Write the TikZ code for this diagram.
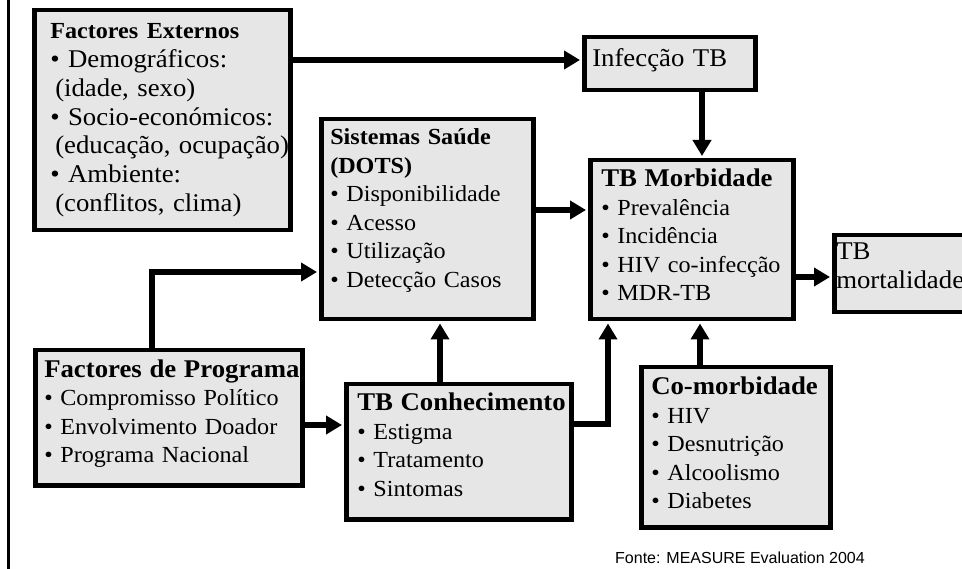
\documentclass[tikz,border=0pt]{standalone}
\usepackage{fontspec}
\setmainfont{Liberation Serif}[FakeStretch=1.05]
\newfontfamily\srcfont{Liberation Sans}
\usetikzlibrary{arrows.meta}
\definecolor{boxfill}{RGB}{230,230,230}
\newcommand\itm{\fontsize{23}{28.5}\selectfont}
\newcommand\bigitm{\fontsize{25.5}{28.7}\selectfont}
\newcommand\hdg{\fontsize{25.5}{28.5}\selectfont\bfseries}
\newcommand\smallhdg{\fontsize{23}{28.5}\selectfont\bfseries}
\newcommand\cont{\hspace*{5pt}}
% a kern under the last line raises a centred text block by half of it
\newcommand\lift[1]{\par\kern#1\relax}

\begin{document}
\begin{tikzpicture}[x=1pt, y=-1pt,
  box/.style={draw, line width=4.5pt, fill=boxfill, anchor=north west,
    align=left, inner ysep=0pt, font=\itm},
  arr/.style={line width=5.5pt, shorten >=2pt,
    -{Triangle[length=16pt,width=18pt]}}]
\useasboundingbox (0,0) rectangle (962,569);
\clip (0,0) rectangle (962,569);

% rule along the left edge
\coordinate (lt) at (8,0);
\coordinate (lb) at (8,569);
\draw[line width=3pt] (lt) -- (lb);

% boxes
\node[box, inner xsep=16pt, text width=224pt, minimum height=220pt, font=\bigitm] (ext) at (32,8)
  {\mbox{\smallhdg Factores Externos}\\
   \mbox{• Demográficos:}\\
   \mbox{\cont(idade, sexo)}\\
   \mbox{• Socio-económicos:}\\
   \mbox{\cont(educação, ocupação)}\\
   \mbox{• Ambiente:}\\
   \mbox{\cont(conflitos, clima)}};

\node[box, inner xsep=8pt, text width=155pt, minimum height=53pt,
  font=\fontsize{25.5}{28.5}\selectfont] (inf) at (582,35) {Infecção TB\lift{8pt}};

\node[box, inner xsep=9pt, text width=194pt, minimum height=200pt] (sis) at (319,117)
  {\mbox{\smallhdg Sistemas Saúde}\\
   {\smallhdg (DOTS)}\\
   • Disponibilidade\\
   • Acesso\\
   • Utilização\\
   \mbox{• Detecção Casos}\lift{18pt}};

\node[box, inner xsep=11pt, text width=181pt, minimum height=159pt] (mor) at (588,158)
  {\mbox{\hdg TB Morbidade}\\
   • Prevalência\\
   • Incidência\\
   \mbox{• HIV co-infecção}\\
   • MDR-TB\lift{10pt}};

\node[box, inner xsep=2pt, text width=176pt, minimum height=77pt,
  font=\fontsize{25.5}{29}\selectfont] (mort) at (832,233) {TB\\mortalidade\lift{16pt}};

\node[box, inner xsep=9pt, text width=249pt, minimum height=135pt] (prog) at (33,348)
  {\mbox{\hdg Factores de Programa}\\
   \mbox{• Compromisso Político}\\
   \mbox{• Envolvimento Doador}\\
   \mbox{• Programa Nacional}\lift{8pt}};

\node[box, inner xsep=11pt, text width=203pt, minimum height=135pt] (con) at (344,382)
  {\mbox{\hdg TB Conhecimento}\\
   • Estigma\\
   • Tratamento\\
   • Sintomas\lift{14pt}};

\node[box, inner xsep=10pt, text width=169pt, minimum height=160pt] (com) at (639,365)
  {\mbox{\hdg Co-morbidade}\\
   • HIV\\
   • Desnutrição\\
   • Alcoolismo\\
   • Diabetes\lift{8pt}};

\node[anchor=base west, inner sep=0pt, font=\srcfont\fontsize{16}{19}\selectfont]
  (src) at (615,563) {Fonte: MEASURE Evaluation 2004};

% routing lines for the connectors
\coordinate (yExt) at (0,60);
\coordinate (ySis) at (0,210);
\coordinate (yMort) at (0,277);
\coordinate (yProgSis) at (0,272);
\coordinate (yProgCon) at (0,425);
\coordinate (yConMor) at (0,424);
\coordinate (xInf) at (702,0);
\coordinate (xProg) at (152,0);
\coordinate (xCon) at (440,0);
\coordinate (xConMor) at (608,0);
\coordinate (xCom) at (700,0);

% connectors
\draw[arr] (ext.east |- yExt) -- (inf.west |- yExt);
\draw[arr] (inf.south -| xInf) -- (mor.north -| xInf);
\draw[arr] (sis.east |- ySis) -- (mor.west |- ySis);
\draw[arr] (mor.east |- yMort) -- (mort.west |- yMort);
\draw[arr] (prog.north -| xProg) |- (sis.west |- yProgSis);
\draw[arr] (prog.east |- yProgCon) -- (con.west |- yProgCon);
\draw[arr] (con.north -| xCon) -- (sis.south -| xCon);
\draw[arr] (con.east |- yConMor) -| (mor.south -| xConMor);
\draw[arr] (com.north -| xCom) -- (mor.south -| xCom);
\end{tikzpicture}
\end{document}
